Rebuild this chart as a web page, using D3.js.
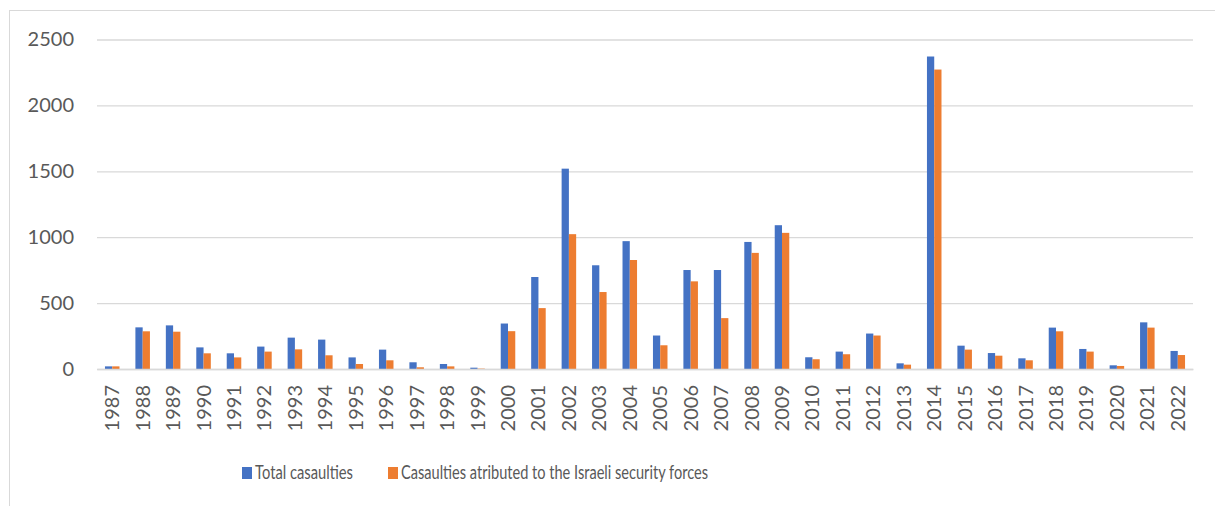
<!DOCTYPE html>
<html>
<head>
<meta charset="utf-8">
<script src="https://cdn.jsdelivr.net/npm/d3@7"></script>
<style>
  body { margin: 0; background: #fff; }
  text { font-family: "Lato", sans-serif; fill: #595959; }
</style>
</head>
<body>
<div id="chart"></div>
<script>
const years = ['1987','1988','1989','1990','1991','1992','1993','1994','1995','1996','1997','1998','1999',
  '2000','2001','2002','2003','2004','2005','2006','2007','2008','2009','2010','2011','2012','2013',
  '2014','2015','2016','2017','2018','2019','2020','2021','2022'];
const totalCasualties = [20,316,331,164,119,170,238,223,88,147,51,38,10,
  345,698,1520,787,970,254,751,751,964,1091,89,132,269,43,
  2371,177,121,81,314,152,28,354,137];
const securityForces = [20,286,283,119,88,132,149,104,38,66,13,20,3,
  287,462,1023,584,827,180,665,386,881,1033,74,112,254,33,
  2272,147,101,66,286,132,23,314,106];
const seriesNames = ['Total casaulties', 'Casaulties atributed to the Israeli security forces'];
const yTicks = [0,500,1000,1500,2000,2500];

const W = 1215, H = 506;
const margin = {top: 39.5, right: 22, bottom: 137, left: 97};
const width = W - margin.left - margin.right,
      height = H - margin.top - margin.bottom;
const colors = ['#4472C4', '#ED7D31'];

const svg = d3.select('#chart').append('svg')
  .attr('width', W).attr('height', H);

// chart frame (only top/left visible)
svg.append('rect')
  .attr('x', 9.5).attr('y', 10.5)
  .attr('width', 1300).attr('height', 600)
  .attr('fill', 'none').attr('stroke', '#d9d9d9');

const g = svg.append('g').attr('transform', `translate(${margin.left},${margin.top})`);

const x0 = d3.scaleBand().domain(years).range([0, width]).paddingInner(0).paddingOuter(0);
const bw = x0.bandwidth() / 4.19;
const x1 = d3.scaleBand().domain([0, 1]).range([x0.bandwidth()/2 - bw, x0.bandwidth()/2 + bw]);
const y = d3.scaleLinear().domain([0, 2500]).range([height, 0]);

// gridlines
g.append('g')
  .call(d3.axisLeft(y).tickValues(yTicks).tickSize(-width).tickFormat(''))
  .call(a => a.select('.domain').remove())
  .call(a => a.selectAll('line').attr('stroke', '#d9d9d9').attr('stroke-width', 1.3));

// y labels
g.append('g')
  .call(d3.axisLeft(y).tickValues(yTicks).tickSize(0).tickPadding(23).tickFormat(d3.format('d')))
  .call(a => a.select('.domain').remove())
  .call(a => a.selectAll('text').attr('font-size', 20).attr('fill', '#595959'));

const rows = years.map((yr, i) => ({year: yr, vals: [totalCasualties[i], securityForces[i]]}));

g.selectAll('.yr')
  .data(rows)
  .join('g')
  .attr('transform', d => `translate(${x0(d.year)},0)`)
  .selectAll('rect')
  .data(d => d.vals)
  .join('rect')
  .attr('x', (d, i) => x1(i))
  .attr('width', x1.bandwidth())
  .attr('y', d => y(d))
  .attr('height', d => height - y(d))
  .attr('fill', (d, i) => colors[i]);

// x axis
g.append('g')
  .attr('transform', `translate(0,${height})`)
  .call(d3.axisBottom(x0).tickSize(0).tickPadding(0))
  .call(a => a.select('.domain').attr('stroke', '#d9d9d9').attr('stroke-width', 1.3))
  .call(a => a.selectAll('text')
    .attr('font-size', 20)
    .attr('fill', '#595959')
    .attr('text-anchor', 'end')
    .attr('dy', '0.35em')
    .attr('transform', 'translate(0,16) rotate(-90)'));

// legend (text squeezed to match the narrow original font)
const legend = svg.append('g').attr('transform', 'translate(242,467)');
const item0 = legend.append('g');
item0.append('rect').attr('width', 10).attr('height', 12).attr('fill', colors[0]);
item0.append('text').attr('x', 13).attr('y', 12).attr('font-size', 18.5)
  .attr('textLength', 98).attr('lengthAdjust', 'spacingAndGlyphs').text(seriesNames[0]);
const item1 = legend.append('g').attr('transform', 'translate(146,0)');
item1.append('rect').attr('width', 10).attr('height', 12).attr('fill', colors[1]);
item1.append('text').attr('x', 13).attr('y', 12).attr('font-size', 18.5)
  .attr('textLength', 307).attr('lengthAdjust', 'spacingAndGlyphs').text(seriesNames[1]);
</script>
</body>
</html>
